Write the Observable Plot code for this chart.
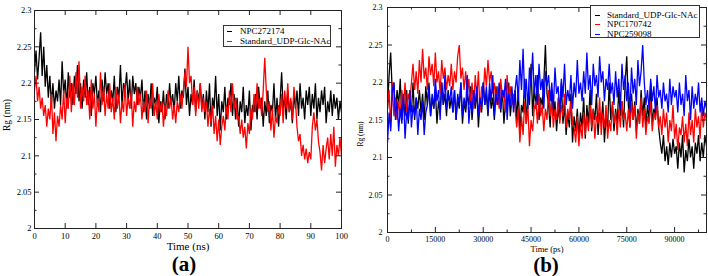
<!DOCTYPE html>
<html><head><meta charset="utf-8">
<script src="https://cdn.jsdelivr.net/npm/d3@7"></script>
<script src="https://cdn.jsdelivr.net/npm/@observablehq/plot@0.6"></script>
<style>
html,body{margin:0;padding:0;background:#fff;}
body{width:708px;height:276px;overflow:hidden;position:relative;font-family:"Liberation Serif",serif;color:#000;}
.panel{position:absolute;top:0;}
.txt{position:absolute;white-space:nowrap;transform:translate(-50%,-50%);line-height:1;}
.rot{transform:translate(-50%,-50%) rotate(-90deg);}
.tag{font-weight:bold;}
.legend{position:absolute;border:1px solid #333;background:#fff;box-sizing:border-box;z-index:2;}
.row{position:absolute;left:0;right:0;white-space:nowrap;}
.row .sw{position:absolute;height:1px;top:50%;}
.row .lb{position:absolute;top:50%;transform:translateY(-50%);line-height:1;}
</style></head><body>
<div id="pa" class="panel" style="left:0px"></div>
<div id="pb" class="panel" style="left:354px"></div>
<script>
// ---------- Panel (a): Rg vs time (ns), sampled every 0.5 ns ----------
const timeStepA = 0.5;
const namesA = ["NPC272174", "Standard_UDP-Glc-NAc"];
const colorsA = ["#000000", "#ff0000"];
const rgA_NPC272174 = [
2.215,2.245,2.205,2.235,2.27,2.21,2.25,
2.195,2.225,2.18,2.21,2.17,2.2,2.165,2.19,2.175,2.205,
2.17,2.23,2.185,2.205,2.165,2.215,2.18,2.2,2.17,2.21,2.185,2.225,2.175,2.2,
2.165,2.205,2.18,2.215,2.17,2.195,2.155,2.2,2.185,2.21,
2.17,2.19,2.16,2.205,2.175,2.215,2.185,2.2,2.165,2.19,
2.175,2.21,2.16,2.195,2.18,2.225,2.17,2.2,2.19,2.215,
2.175,2.205,2.165,2.21,2.185,2.2,2.17,2.195,2.18,2.205,
2.16,2.19,2.15,2.185,2.165,2.2,2.155,2.18,2.17,2.195,
2.145,2.175,2.16,2.19,2.15,2.185,2.165,2.2,2.17,2.185,
2.16,2.2,2.175,2.21,2.165,2.19,2.18,2.22,2.17,2.195,
2.155,2.185,2.17,2.205,2.16,2.19,2.175,2.2,2.165,2.185,
2.15,2.19,2.16,2.2,2.14,2.18,2.165,2.21,2.155,2.185,
2.135,2.175,2.16,2.195,2.15,2.18,2.17,2.2,2.155,2.185,
2.15,2.18,2.14,2.175,2.16,2.195,2.145,2.17,2.155,2.19,
2.135,2.17,2.16,2.185,2.15,2.195,2.165,2.18,2.14,2.175,
2.155,2.19,2.145,2.17,2.16,2.2,2.15,2.18,2.14,2.175,
2.215,2.165,2.18,2.15,2.19,2.16,2.175,2.145,2.185,2.165,
2.19,2.155,2.2,2.165,2.18,2.15,2.19,2.17,2.195,2.155,
2.185,2.165,2.2,2.15,2.18,2.16,2.19,2.17,2.195,2.145,
2.175,2.16,2.19,2.155,2.185,2.165,2.18,2.15,2.175,2.16
];
const rgA_Standard = [
2.19,2.21,2.175,2.195,2.165,2.18,2.155,
2.17,2.14,2.165,2.15,2.185,2.13,2.16,2.12,2.155,2.14,
2.17,2.15,2.19,2.145,2.18,2.165,2.21,2.16,
2.2,2.17,2.215,2.18,2.23,2.165,2.195,2.175,2.21,2.17,
2.19,2.15,2.205,2.165,2.185,2.14,2.18,2.16,2.215,2.17,2.195,2.155,2.185,2.165,2.2,2.16,
2.18,2.15,2.195,2.165,2.185,2.145,2.175,2.16,2.2,2.155,
2.18,2.165,2.19,2.14,2.175,2.16,2.195,2.17,2.185,2.15,
2.175,2.16,2.19,2.145,2.18,2.165,2.2,2.155,2.175,2.15,
2.185,2.16,2.175,2.14,2.17,2.155,2.19,2.165,2.18,2.15,
2.17,2.145,2.175,2.16,2.185,2.165,2.19,
2.215,2.195,2.25,2.2,
2.21,2.17,2.195,2.155,2.19,2.165,2.2,2.16,2.18,
2.16,2.175,2.14,2.165,2.145,2.17,2.13,2.155,2.12,2.15,2.115,2.14,2.155,2.135,
2.17,2.15,2.19,2.16,2.2,2.165,2.18,2.15,
2.155,2.13,2.15,2.125,2.14,2.11,2.145,2.13,
2.165,2.15,2.185,2.16,2.2,2.165,2.18,2.155,2.19,
2.235,
2.19,2.16,2.175,2.135,2.165,2.125,2.155,2.145,2.17,
2.155,2.185,2.145,2.19,2.165,2.2,2.16,2.18,2.15,2.195,2.175,
2.14,2.12,2.13,2.1,2.115,2.095,
2.11,2.09,2.105,2.095,
2.14,2.16,2.135,2.15,
2.12,2.105,2.08,2.115,2.09,2.11,
2.125,2.095,2.13,2.1,2.14,2.085,2.115,2.1,2.125,2.1
];
const seriesA = [rgA_NPC272174, rgA_Standard];
const xTicksA = [0,10,20,30,40,50,60,70,80,90,100];
const yTicks = [2,2.05,2.1,2.15,2.2,2.25,2.3];
const yMinorTicks = [2.025,2.075,2.125,2.175,2.225,2.275];

// ---------- Panel (b): Rg vs time (ps), sampled every 500 ps ----------
const timeStepB = 500;
const namesB = ["Standard_UDP-Glc-NAc", "NPC170742", "NPC259098"];
const colorsB = ["#000000", "#ff0000", "#0000ff"];
const rgB_Standard = [
2.165,2.21,2.24,2.185,2.2,2.155,2.19,2.17,2.205,2.15,2.18,
2.155,2.19,2.145,2.175,2.16,2.2,2.15,2.18,2.165,2.19,
2.16,2.185,2.15,2.195,2.17,2.2,2.155,2.18,2.165,2.19,
2.145,2.175,2.16,2.2,2.17,2.185,2.155,2.19,2.165,2.18,
2.16,2.19,2.15,2.18,2.165,2.2,2.145,2.175,2.16,2.185,
2.17,2.195,2.15,2.18,2.165,2.19,2.14,2.175,2.16,2.2,
2.17,2.185,2.155,2.19,2.165,2.18,2.15,2.195,2.17,2.185,
2.16,2.19,2.145,2.175,2.165,2.2,2.155,2.18,2.17,2.19,
2.15,2.19,2.135,2.17,2.16,2.205,2.145,2.185,2.17,2.225,
2.155,2.195,2.165,2.21,2.15,2.18,2.17,2.2,2.25,2.185,
2.17,2.14,2.19,2.155,2.175,2.135,2.165,2.15,2.2,2.145,
2.17,2.13,2.16,2.14,2.185,2.12,2.155,2.135,2.165,2.125,
2.16,2.14,2.18,2.125,2.17,2.145,2.19,2.135,2.165,2.15,
2.185,2.13,2.16,2.145,2.175,2.12,2.155,2.14,2.2,2.15,
2.17,2.135,2.165,2.145,2.19,2.155,2.175,2.14,2.2,2.235,
2.17,2.14,2.185,2.15,2.175,2.135,2.165,2.145,2.19,2.155,
2.18,2.14,2.17,2.15,2.2,2.145,2.165,2.155,2.18,2.14,
2.12,2.105,2.13,2.095,2.115,2.09,2.12,2.1,2.125,2.105,
2.115,2.085,2.12,2.1,2.13,2.08,2.11,2.095,2.125,2.1,
2.115,2.085,2.12,2.105,2.13,2.095,2.12,2.1,2.13,2.115
];
const rgB_NPC170742 = [
2.165,2.19,2.14,2.2,2.155,2.18,2.15,
2.175,2.155,2.19,2.165,2.2,2.16,2.185,2.175,
2.2,2.225,2.19,2.215,2.185,2.23,2.2,2.245,2.205,2.22,
2.19,2.235,2.21,2.225,2.195,2.24,2.2,2.215,2.185,2.23,
2.205,2.22,2.19,2.21,2.195,2.225,
2.19,2.215,2.2,2.235,2.25,2.205,2.22,2.19,2.215,2.185,
2.205,2.17,2.2,2.165,2.21,2.18,2.215,2.16,2.195,2.18,
2.22,2.195,2.23,2.2,2.215,2.185,
2.2,2.17,2.195,2.165,2.205,2.18,2.19,2.16,2.21,2.175,2.195,2.17,2.185,2.165,
2.14,2.165,2.12,2.155,2.13,2.175,2.145,2.17,2.115,2.15,2.135,2.165,
2.175,2.145,2.185,2.155,2.17,2.135,2.165,2.15,2.19,2.155,
2.175,2.14,2.165,2.15,2.18,2.145,2.17,2.155,2.185,2.14,
2.165,2.15,2.175,2.145,
2.14,2.12,2.155,2.115,2.145,2.125,2.16,2.13,
2.155,2.135,2.17,2.14,2.165,2.125,2.155,2.145,2.18,2.13,
2.16,2.14,2.17,2.125,2.15,2.135,2.175,2.145,2.16,2.13,
2.165,2.14,2.175,2.15,2.16,2.135,
2.165,2.14,2.175,2.15,2.17,2.125,2.16,2.145,2.18,2.14,
2.165,2.13,2.155,2.145,2.175,2.135,2.16,2.15,2.17,2.14,
2.155,2.13,2.165,2.14,2.16,2.12,2.15,2.135,2.17,2.125,2.145,2.11,2.14,2.13,2.155,2.12,
2.145,2.115,2.16,2.13,2.15,2.12,2.165,2.14,2.155,2.125,2.17,2.14,2.16,2.15
];
const rgB_NPC259098 = [
2.12,2.16,2.135,2.19,2.2,
2.15,2.175,2.135,2.165,2.145,2.185,2.125,2.16,2.15,2.19,
2.14,2.17,2.155,2.18,2.13,2.165,2.15,2.175,2.13,2.16,
2.17,2.195,2.155,2.185,2.165,2.205,2.175,2.19,2.15,2.2,2.17,2.21,2.165,2.185,2.175,2.195,
2.16,2.19,2.15,2.185,2.17,2.2,2.155,2.18,2.165,2.21,
2.145,2.175,2.16,2.19,2.17,2.195,2.155,2.18,2.165,2.2,
2.17,2.195,2.16,2.2,2.175,2.21,2.155,2.185,2.17,2.2,
2.165,2.19,2.18,2.205,2.15,2.185,2.17,2.195,2.16,2.19,
2.21,2.175,2.23,2.19,2.245,2.18,2.205,2.165,2.22,2.195,
2.24,2.185,2.21,2.17,2.225,2.19,2.205,2.165,2.215,2.195,
2.21,2.175,2.2,2.165,2.22,2.185,2.195,2.16,2.205,2.18,
2.225,2.17,2.19,2.175,2.21,2.165,2.2,2.18,2.23,2.185,
2.2,2.175,2.215,2.185,2.24,2.19,2.21,2.17,2.225,2.195,
2.21,2.18,2.235,2.2,2.215,2.175,2.205,2.19,2.225,2.185,
2.2,2.17,2.215,2.18,2.205,2.165,2.225,2.19,2.21,2.175,
2.2,2.16,2.22,2.185,2.205,2.17,2.23,2.195,2.215,2.25,
2.2,2.17,2.19,2.165,2.205,2.175,2.195,2.16,2.21,2.18,
2.19,2.165,2.2,2.175,2.185,2.16,2.205,2.17,2.195,2.18,
2.19,2.16,2.2,2.17,2.185,2.155,2.21,2.175,2.19,2.15,
2.195,2.165,2.185,2.17,2.2,2.16,2.18,2.155,2.175,2.165
];
const seriesB = [rgB_Standard, rgB_NPC170742, rgB_NPC259098];
const xTicksB = [0,15000,30000,45000,60000,75000,90000];
const xMinorTicksB = [7500,22500,37500,52500,67500,82500,97500];

const yFmt = d => String(+d.toFixed(3));

function makePanel(c) {
  const innerW = c.width - c.ml - c.mr;
  const innerH = c.height - c.mt - c.mb;
  const marks = [];
  c.series.forEach((vals, k) => {
    const data = vals.map((v, i) => ({t: i * c.dt, v}));
    marks.push(Plot.line(data, {x: "t", y: "v", stroke: c.colors[k], strokeWidth: 1.3, strokeLinejoin: "miter", clip: true}));
  });
  const tc = "#222";
  const xT = (vals, len) => [
    Plot.ruleX(vals, {insetTop: innerH - len, stroke: tc}),
    Plot.ruleX(vals, {insetBottom: innerH - len, stroke: tc})
  ];
  const yT = (vals, len) => [
    Plot.ruleY(vals, {insetRight: innerW - len, stroke: tc}),
    Plot.ruleY(vals, {insetLeft: innerW - len, stroke: tc})
  ];
  marks.push(...xT(c.xTicks, 5), ...yT(yTicks, 5), ...yT(yMinorTicks, 2.5));
  if (c.xMinor) marks.push(...xT(c.xMinor, 2.5));
  marks.push(Plot.frame({stroke: tc, strokeWidth: 1}));
  marks.push(Plot.axisX(c.xTicks, {tickSize: 0, tickPadding: c.xPad, tickFormat: d => String(d), label: null}));
  marks.push(Plot.axisY(yTicks, {tickSize: 0, tickPadding: c.yPad, tickFormat: yFmt, label: null}));
  const svg = Plot.plot({
    width: c.width, height: c.height,
    marginTop: c.mt, marginBottom: c.mb, marginLeft: c.ml, marginRight: c.mr,
    x: {domain: c.xDomain, axis: null},
    y: {domain: [2, 2.3], axis: null},
    style: {fontFamily: '"Liberation Serif", serif', fontSize: c.fs + "px", color: "#000", background: "transparent"},
    marks
  });
  document.getElementById(c.id).appendChild(svg);
}

makePanel({id: "pa", width: 354, height: 256, mt: 10, mb: 28, ml: 34, mr: 13,
  xDomain: [0, 100], xTicks: xTicksA, dt: timeStepA, series: seriesA, colors: colorsA,
  fs: 8.5, xPad: 4, yPad: 3});
makePanel({id: "pb", width: 354, height: 256, mt: 7, mb: 24, ml: 33, mr: 2,
  xDomain: [0, 100000], xTicks: xTicksB, xMinor: xMinorTicksB, dt: timeStepB, series: seriesB, colors: colorsB,
  fs: 8, xPad: 4, yPad: 5});

// ---------- titles, panel tags, legends ----------
function addText(str, x, y, size, cls) {
  const d = document.createElement("div");
  d.className = "txt" + (cls ? " " + cls : "");
  d.style.left = x + "px"; d.style.top = y + "px"; d.style.fontSize = size + "px";
  d.textContent = str;
  document.body.appendChild(d);
}
addText("Time (ns)", 188, 246, 11);
addText("Time (ps)", 547, 249, 8.5);
addText("Rg (nm)", 8, 115, 9.5, "rot");
addText("Rg (nm)", 361, 134, 7.5, "rot");
addText("(a)", 184, 264, 21, "tag");
addText("(b)", 546, 265, 21, "tag");

function addLegend(names, colors, box) {
  const L = document.createElement("div");
  L.className = "legend";
  Object.assign(L.style, {left: box.x + "px", top: box.y + "px", width: box.w + "px", height: box.h + "px", fontSize: box.fs + "px"});
  names.forEach((n, i) => {
    const r = document.createElement("div");
    r.className = "row";
    r.style.top = (box.pad + i * box.step) + "px";
    r.style.height = box.step + "px";
    const sw = document.createElement("span");
    sw.className = "sw";
    Object.assign(sw.style, {left: box.swx + "px", width: box.sww + "px", background: colors[i]});
    const lb = document.createElement("span");
    lb.className = "lb";
    lb.style.left = box.tx + "px";
    lb.textContent = n;
    r.appendChild(sw); r.appendChild(lb);
    L.appendChild(r);
  });
  document.body.appendChild(L);
}
addLegend(namesA, colorsA, {x: 223, y: 25, w: 108, h: 22, fs: 9, pad: 0, step: 10, swx: 3, sww: 5, tx: 16});
addLegend(namesB, colorsB, {x: 590, y: 5, w: 110, h: 33, fs: 9, pad: 4, step: 9.5, swx: 4, sww: 5, tx: 16});
</script>
</body></html>
